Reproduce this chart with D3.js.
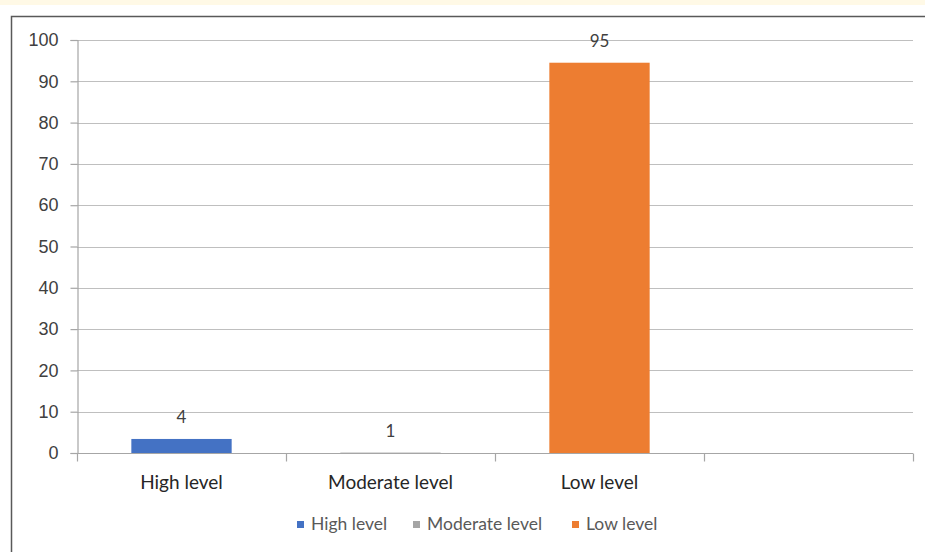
<!DOCTYPE html>
<html>
<head>
<meta charset="utf-8">
<script src="https://cdn.jsdelivr.net/npm/d3@7"></script>
<style>
  body { margin: 0; background: #fff; }
  svg { display: block; font-family: Lato, 'Open Sans', sans-serif; }
</style>
</head>
<body>
<script>
// ! Data
const categories = ['High level', 'Moderate level', 'Low level', ''];
const barValues = [3.4, 0.1, 94.5];
const labelTexts = ['4', '1', '95'];
const barColors = ['#4472c4', '#a5a5a5', '#ed7d31'];
const yTicks = [0, 10, 20, 30, 40, 50, 60, 70, 80, 90, 100];

// * Size and margins
const width = 925;
const height = 552;
const margin = {
  top: 40, right: 12, bottom: 99, left: 77,
};

const svg = d3
  .select('body')
  .append('svg')
  .attr('width', width)
  .attr('height', height);

// * Yellow strip and panel border
svg.append('rect')
  .attr('x', 0).attr('y', 0)
  .attr('width', width).attr('height', 5)
  .attr('fill', '#fff9e6');
svg.append('path')
  .attr('d', `M11.5,${height + 5}V16.5H${width + 5}`)
  .attr('fill', 'none')
  .attr('stroke', '#595959')
  .attr('stroke-width', 1.5);

const x = d3.scaleBand()
  .domain(categories)
  .range([margin.left, width - margin.right])
  .padding(0);
const y = d3.scaleLinear()
  .domain([0, 100])
  .range([height - margin.bottom, margin.top]);

const barWidth = x.bandwidth() * 0.48;

// * Gridlines
svg.append('g')
  .selectAll('line')
  .data(yTicks.filter((d) => d > 0))
  .enter()
  .append('line')
  .attr('x1', margin.left)
  .attr('x2', width - margin.right)
  .attr('y1', (d) => Math.round(y(d)) + 0.5)
  .attr('y2', (d) => Math.round(y(d)) + 0.5)
  .attr('stroke', '#bfbfbf')
  .attr('stroke-width', 1.2);

// * Bars
svg.append('g')
  .selectAll('rect')
  .data(barValues)
  .enter()
  .append('rect')
  .attr('x', (d, i) => x(categories[i]) + (x.bandwidth() - barWidth) / 2)
  .attr('y', (d) => y(d))
  .attr('width', barWidth)
  .attr('height', (d) => y(0) - y(d))
  .attr('fill', (d, i) => barColors[i]);

// * Y axis
const yAxis = svg.append('g')
  .attr('transform', `translate(${margin.left + 0.5},0)`)
  .call(d3.axisLeft(y).tickValues(yTicks).tickSize(7).tickPadding(12));
yAxis.select('.domain').attr('stroke', '#a6a6a6').attr('stroke-width', 1.2);
yAxis.selectAll('.tick line').attr('stroke', '#a6a6a6').attr('stroke-width', 1.2);
yAxis.selectAll('.tick text')
  .attr('fill', '#404040')
  .style('font-size', '18px');

// * X axis with ticks on band edges
const xAxisY = Math.round(y(0)) + 0.5;
svg.append('line')
  .attr('x1', margin.left)
  .attr('x2', width - margin.right)
  .attr('y1', xAxisY)
  .attr('y2', xAxisY)
  .attr('stroke', '#a6a6a6')
  .attr('stroke-width', 1.2);
const edges = categories.map((c) => x(c)).concat([width - margin.right]);
svg.append('g')
  .selectAll('line')
  .data(edges)
  .enter()
  .append('line')
  .attr('x1', (d) => Math.round(d) + 0.5)
  .attr('x2', (d) => Math.round(d) + 0.5)
  .attr('y1', xAxisY)
  .attr('y2', xAxisY + 8)
  .attr('stroke', '#a6a6a6')
  .attr('stroke-width', 1.2);
svg.append('g')
  .selectAll('text')
  .data(categories.filter((c) => c !== ''))
  .enter()
  .append('text')
  .attr('x', (d) => x(d) + x.bandwidth() / 2)
  .attr('y', xAxisY + 35)
  .attr('text-anchor', 'middle')
  .attr('fill', '#262626')
  .style('font-size', '19px')
  .text((d) => d);

// * Data labels
svg.append('g')
  .selectAll('text')
  .data(barValues)
  .enter()
  .append('text')
  .attr('x', (d, i) => x(categories[i]) + x.bandwidth() / 2)
  .attr('y', (d) => y(d) - 16)
  .attr('text-anchor', 'middle')
  .attr('fill', '#404040')
  .style('font-size', '17px')
  .text((d, i) => labelTexts[i]);

// * Legend
const legendItems = categories.slice(0, 3);
const legendX = [297, 413, 572];
const legend = svg.append('g')
  .selectAll('g')
  .data(legendItems)
  .enter()
  .append('g')
  .attr('transform', (d, i) => `translate(${legendX[i]},521)`);
legend.append('rect')
  .attr('width', 7)
  .attr('height', 7)
  .attr('fill', (d, i) => barColors[i]);
legend.append('text')
  .attr('x', 14)
  .attr('y', 9)
  .attr('fill', '#595959')
  .style('font-size', '17.5px')
  .text((d) => d);
</script>
</body>
</html>
